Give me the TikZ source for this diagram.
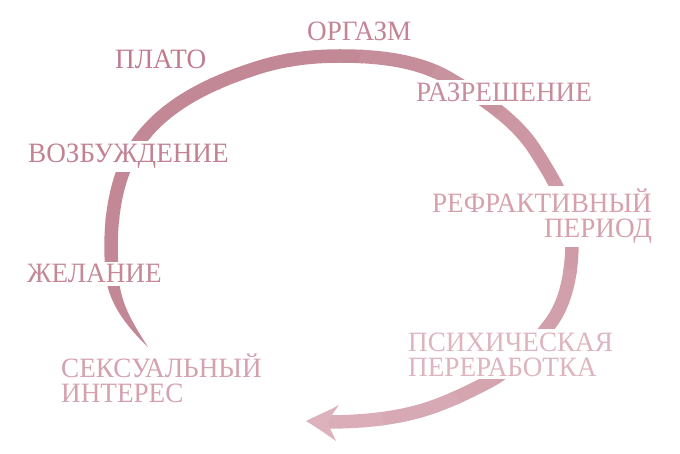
\documentclass[tikz,border=0pt]{standalone}
\usepackage{fontspec}
\setmainfont{Liberation Serif}[FakeStretch=0.97]
\definecolor{cdark}{RGB}{195,136,150}
\definecolor{clight}{RGB}{221,178,188}
\definecolor{tPlato}{RGB}{192,124,142}
\definecolor{tOrg}{RGB}{196,132,150}
\definecolor{tRazr}{RGB}{200,140,156}
\definecolor{tVozb}{RGB}{194,130,147}
\definecolor{tRefr}{RGB}{214,160,173}
\definecolor{tZhel}{RGB}{196,136,151}
\definecolor{tSeks}{RGB}{212,162,175}
\definecolor{tPsych}{RGB}{222,180,190}
\begin{document}
\begin{tikzpicture}[x=1pt,y=-1pt,
  lbl/.style={font=\fontsize{28}{25}\selectfont, fill=white, inner sep=3pt},
  brush/.style={line width=13.5pt, line cap=butt, line join=round}]
\useasboundingbox (0,0) rectangle (680,454);
% brush stroke, coloured in angular sectors along its course
\foreach \i in {0,...,14}{
  \pgfmathsetmacro{\aa}{138+\i*23}
  \pgfmathsetmacro{\bb}{\aa+24}
  \pgfmathtruncatemacro{\pp}{\i<6 ? 100 : 100-(\i-5)*100/9}
  \colorlet{segcol}{cdark!\pp!clight}
  \begin{scope}
    \clip (341,237) -- +(\aa:520) -- +(\bb:520) -- cycle;
    \draw[brush, draw=segcol] (112,270)
      .. controls (108.5,226) and (114,175) .. (140,140)
      .. controls (168,102) and (215,81) .. (260,67)
      .. controls (286,59) and (313,56) .. (340,56)
      .. controls (377,56) and (418,60) .. (450,79)
      .. controls (482,98) and (515,119) .. (535,150)
      .. controls (553,178) and (572,209) .. (572,242)
      .. controls (572,270) and (567,302) .. (550,324)
      .. controls (533,346) and (513,369) .. (488,382)
      .. controls (467,393) and (443,404.5) .. (420,411)
      .. controls (390,419.5) and (357.5,422) .. (326,422);
  \end{scope}
}
% tapering tail
\fill[cdark] (105.3,270) .. controls (106,300) and (125,325) .. (148,347)
  .. controls (132,322) and (118,300) .. (118.7,270) -- cycle;
% arrowhead
\fill[clight] (306,421) .. controls (318,415) and (328,411) .. (339,405)
  -- (327,422) -- (336,441) .. controls (326,434) and (316,427) .. (306,421) -- cycle;
% labels
\node[lbl, text=tOrg, anchor=base west] (orgasm) at (304,41) {ОРГАЗМ};
\node[lbl, text=tPlato, anchor=base west] (plato) at (112,69) {ПЛАТО};
\node[lbl, text=tRazr, anchor=base west] (razr) at (413,102) {РАЗРЕШЕНИЕ};
\node[lbl, text=tVozb, anchor=base west] (vozb) at (25,163) {ВОЗБУЖДЕНИЕ};
\node[lbl, text=tRefr, anchor=base east, align=right] (refr) at (655,238) {РЕФРАКТИВНЫЙ\\ПЕРИОД};
\node[lbl, text=tZhel, anchor=base west] (zhel) at (24,283) {ЖЕЛАНИЕ};
\node[lbl, text=tSeks, anchor=base west, align=left] (seks) at (58,402) {СЕКСУАЛЬНЫЙ\\ИНТЕРЕС};
\node[lbl, text=tPsych, anchor=base west, align=left] (psych) at (405,376) {ПСИХИЧЕСКАЯ\\ПЕРЕРАБОТКА};
\end{tikzpicture}
\end{document}
